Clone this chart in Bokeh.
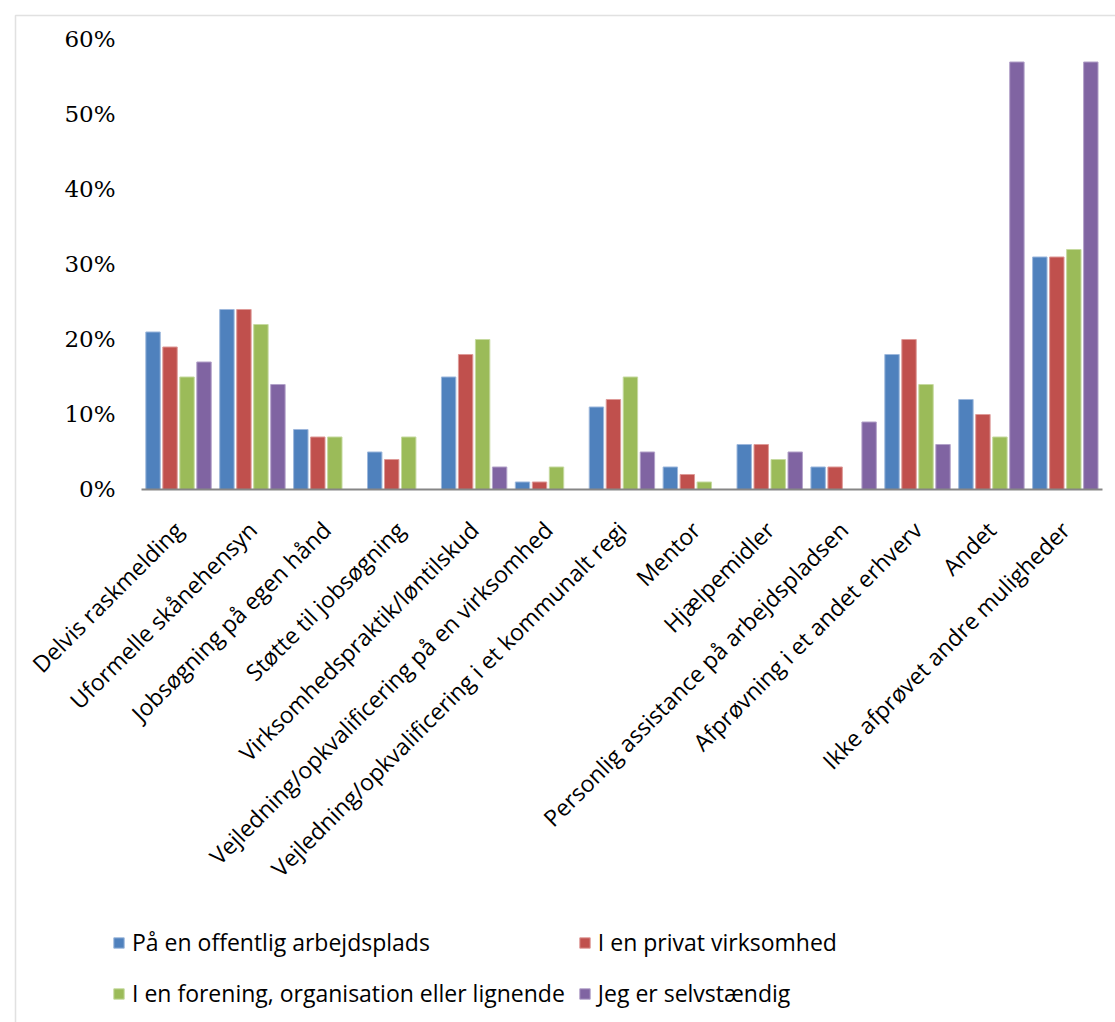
from bokeh.plotting import figure
from bokeh.models import (Range1d, Legend, LegendItem, BoxAnnotation,
                          FixedTicker, PrintfTickFormatter, LinearAxis)
from bokeh.transform import dodge
from bokeh.embed import file_html
from bokeh.resources import INLINE
import math

categories = [
    "Delvis raskmelding",
    "Uformelle skånehensyn",
    "Jobsøgning på egen hånd",
    "Støtte til jobsøgning",
    "Virksomhedspraktik/løntilskud",
    "Vejledning/opkvalificering på en virksomhed",
    "Vejledning/opkvalificering i et kommunalt regi",
    "Mentor",
    "Hjælpemidler",
    "Personlig assistance på arbejdspladsen",
    "Afprøvning i et andet erhverv",
    "Andet",
    "Ikke afprøvet andre muligheder",
]

series_names = [
    "På en offentlig arbejdsplads",
    "I en privat virksomhed",
    "I en forening, organisation eller lignende",
    "Jeg er selvstændig",
]

offentlig = [21, 24, 8, 5, 15, 1, 11, 3, 6, 3, 18, 12, 31]
privat = [19, 24, 7, 4, 18, 1, 12, 2, 6, 3, 20, 10, 31]
forening = [15, 22, 7, 7, 20, 3, 15, 1, 4, 0, 14, 7, 32]
selvstaendig = [17, 14, 0, 0, 3, 0, 5, 0, 5, 9, 6, 57, 57]

y_ticks = [0, 10, 20, 30, 40, 50, 60]

colors = ["#4F81BD", "#C0504D", "#9BBB59", "#8064A2"]
edge_colors = ["#9DB8DC", "#DE9A98", "#C6DAA0", "#B3A2C9"]

idx = list(range(len(categories)))
data = dict(idx=idx, s0=offentlig, s1=privat, s2=forening, s3=selvstaendig)

W, H = 1115, 1022
p = figure(x_range=Range1d(-2.409, 12.679), y_range=Range1d(-71.07, 65.2),
           width=W, height=H, output_backend="svg", toolbar_location=None,
           x_axis_location=None, y_axis_location=None,
           min_border_left=0, min_border_right=0, min_border_top=0,
           min_border_bottom=0, min_border=0)

p.outline_line_color = None
p.grid.visible = False
p.background_fill_color = "white"
p.border_fill_color = "white"

offsets = [-0.345, -0.115, 0.115, 0.345]
renderers = []
for i in range(4):
    r = p.vbar(x=dodge("idx", offsets[i]), top="s%d" % i,
               width=0.195, source=data, fill_color=colors[i],
               line_color=edge_colors[i], line_width=1)
    renderers.append(r)

# y axis (drawn at the left edge of the category band)
yaxis = LinearAxis(fixed_location=-0.5, bounds=(0, 60))
yaxis.ticker = FixedTicker(ticks=y_ticks)
yaxis.formatter = PrintfTickFormatter(format="%d%%")
yaxis.axis_line_color = None
yaxis.major_tick_line_color = None
yaxis.minor_tick_line_color = None
yaxis.major_tick_out = 0
yaxis.major_tick_in = 0
yaxis.major_label_text_font = "DejaVu Serif"
yaxis.major_label_text_font_size = "23px"
yaxis.major_label_text_color = "#000000"
yaxis.major_label_standoff = 26
p.add_layout(yaxis, "left")

# x axis
xaxis = LinearAxis(fixed_location=0, bounds=(-0.5, 12.5))
xaxis.ticker = FixedTicker(ticks=idx)
xaxis.major_label_overrides = {i: c for i, c in zip(idx, categories)}
xaxis.axis_line_color = "#868686"
xaxis.axis_line_width = 2
xaxis.major_tick_line_color = None
xaxis.minor_tick_line_color = None
xaxis.major_tick_out = 0
xaxis.major_tick_in = 0
xaxis.major_label_orientation = math.pi / 4
xaxis.major_label_text_font = "Open Sans"
xaxis.major_label_text_font_size = "23px"
xaxis.major_label_text_color = "#000000"
xaxis.major_label_standoff = 36
p.add_layout(xaxis, "below")

# chart border (left and top edges visible)
border = BoxAnnotation(left=15, right=3000, top=H - 15, bottom=-100,
                       left_units="screen", right_units="screen",
                       top_units="screen", bottom_units="screen",
                       fill_alpha=0, line_color="#9A9A9A", line_width=1.5,
                       level="overlay")
p.add_layout(border)

legend = Legend(items=[LegendItem(label=series_names[i], renderers=[renderers[i]])
                       for i in range(4)],
                orientation="horizontal", ncols=2,
                location=(112, 10),
                padding=0, margin=0, spacing=13,
                label_height=38, glyph_width=13, glyph_height=13,
                label_standoff=7,
                label_text_font="Open Sans", label_text_font_size="23px",
                label_text_color="#000000",
                border_line_color=None, background_fill_alpha=0)
p.add_layout(legend, "center")

open("out.html", "w").write(file_html(p, INLINE))
